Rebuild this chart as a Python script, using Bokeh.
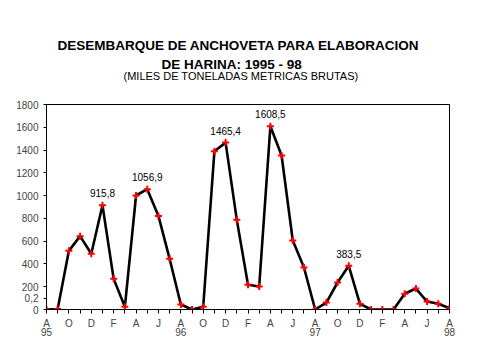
from bokeh.plotting import figure
from bokeh.models import Range1d, FixedTicker, LinearAxis, Title, ColumnDataSource
from bokeh.core.properties import value
from bokeh.embed import file_html
from bokeh.resources import INLINE

# Monthly data Aug 1995 .. Aug 1998 (index 0..36)
months = list(range(37))
landings = [0, 5, 515, 644, 489, 915.8, 269, 24, 1001, 1056.9, 822, 445, 44, 0, 24,
            1390, 1465.4, 787, 217, 202, 1608.5, 1352, 606, 369, 0, 61, 237, 383.5,
            50, 0, 0, 0, 138, 184, 70, 50, 10.7]
month_letters = ["A", "S", "O", "N", "D", "E", "F", "M", "A", "M", "J", "J"]
year_ticks = [0, 12, 24, 36]
year_labels = ["95", "96", "97", "98"]
y_ticks = [0, 100, 200, 400, 600, 800, 1000, 1200, 1400, 1600, 1800]
y_labels = ["0", "0,2", "200", "400", "600", "800", "1000", "1200", "1400", "1600", "1800"]
label_idx = [5, 9, 16, 20, 27]
label_text = ["915,8", "1056,9", "1465,4", "1608,5", "383,5"]
last_text = "10,7"
title_1 = "DESEMBARQUE DE ANCHOVETA PARA ELABORACION"
title_2 = "DE HARINA: 1995 - 98"
subtitle = "(MILES  DE TONELADAS METRICAS BRUTAS)"

FONT = "Liberation Sans"

p = figure(width=477, height=357, output_backend="svg", toolbar_location=None,
           x_range=Range1d(0, 36), y_range=Range1d(0, 1800),
           min_border_left=46, min_border_right=28, min_border_bottom=48, min_border_top=104,
           x_axis_type=None, y_axis_type=None)
p.title = None
p.grid.visible = False
p.outline_line_color = "black"
p.outline_line_width = 1
p.background_fill_color = "white"
p.border_fill_color = "white"

# titles (added innermost first); a blank spacer keeps the gap above the frame
p.add_layout(Title(text=" ", text_font_size="1px", standoff=20), "above")
p.add_layout(Title(text=subtitle, align="left", text_color="black",
                   text_font=FONT, text_font_size="11px", text_font_style="normal",
                   offset=77, standoff=0), "above")
p.add_layout(Title(text=title_2, align="left", text_color="black",
                   text_font=FONT, text_font_size="13.5px", text_font_style="bold",
                   offset=115, standoff=-8), "above")
p.add_layout(Title(text=title_1, align="left", text_color="black",
                   text_font=FONT, text_font_size="13.5px", text_font_style="bold",
                   offset=11, standoff=12), "above")

# y axis
yax = LinearAxis(ticker=FixedTicker(ticks=y_ticks))
yax.major_label_overrides = {t: l for t, l in zip(y_ticks, y_labels)}
yax.major_tick_out = 3
yax.major_tick_in = 0
yax.minor_tick_line_color = None
yax.major_label_standoff = 5
yax.major_label_text_font = FONT
yax.major_label_text_font_size = "10px"
yax.axis_line_color = "black"
p.add_layout(yax, "left")

# x axis (months)
xax = LinearAxis(ticker=FixedTicker(ticks=months))
xax.major_label_overrides = {m: (month_letters[m % 12] if m % 2 == 0 else "") for m in months}
xax.major_tick_out = 4
xax.major_tick_in = 0
xax.minor_tick_line_color = None
xax.major_label_standoff = 4
xax.major_label_text_font = FONT
xax.major_label_text_font_size = "10px"
p.add_layout(xax, "below")

# year axis
yr = LinearAxis(ticker=FixedTicker(ticks=year_ticks))
yr.major_label_overrides = {t: l for t, l in zip(year_ticks, year_labels)}
yr.axis_line_color = None
yr.major_tick_line_color = None
yr.minor_tick_line_color = None
yr.major_tick_out = 0
yr.major_tick_in = 0
yr.major_label_standoff = -4
yr.major_label_text_font = FONT
yr.major_label_text_font_size = "10px"
p.add_layout(yr, "below")

src = ColumnDataSource(dict(x=months, y=landings))
p.line("x", "y", source=src, line_color="black", line_width=2.6)
p.scatter("x", "y", source=src, marker="cross", size=7, line_color="red", line_width=2)

lab = ColumnDataSource(dict(x=[months[i] for i in label_idx],
                            y=[landings[i] for i in label_idx], t=label_text))
p.text("x", "y", text="t", source=lab, text_align="center", text_baseline="middle",
       y_offset=-12, text_font=value(FONT), text_font_size="10px", text_color="black")
p.text([months[-1]], [landings[-1]], text=[last_text], text_align="left",
       text_baseline="middle", x_offset=4, y_offset=-7, text_font=value(FONT),
       text_font_size="10px", text_color="black")

open("out.html", "w").write(file_html(p, INLINE))
